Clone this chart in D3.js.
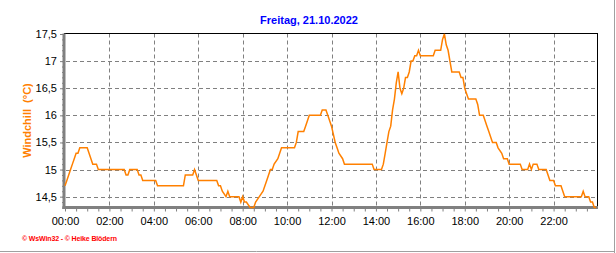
<!DOCTYPE html>
<html>
<head>
<meta charset="utf-8">
<script src="https://cdn.jsdelivr.net/npm/d3@7"></script>
<style>
  body { margin: 0; background: #fff; }
  svg { display: block; font-family: "Liberation Sans", Arial, sans-serif; }
</style>
</head>
<body>
<svg width="616" height="253"></svg>
<script>
let svg = d3.select("svg");
let width = +svg.attr("width");
let height = +svg.attr("height");

// windchill readings (time of change, value in °C)
const times = [
  "00:00", "00:05", "00:10", "00:15", "00:20", "00:25", "00:30", "00:35", "00:40", "01:00",
  "01:05", "01:10", "01:15", "01:25", "01:30", "02:40", "02:45", "02:50", "02:55", "03:15",
  "03:20", "03:25", "03:30", "04:05", "04:10", "05:20", "05:25", "05:45", "05:50", "05:55",
  "06:00", "06:50", "06:55", "07:00", "07:05", "07:15", "07:20", "07:25", "07:50", "07:55",
  "08:00", "08:05", "08:10", "08:20", "08:30", "08:35", "08:45", "08:55", "09:05", "09:10",
  "09:15", "09:20", "09:25", "09:35", "09:40", "09:45", "10:20", "10:25", "10:30", "10:45",
  "10:50", "10:55", "11:00", "11:30", "11:35", "11:45", "11:50", "12:00", "12:10", "12:15",
  "12:20", "12:30", "12:35", "13:50", "13:55", "14:15", "14:20", "14:25", "14:30", "14:35",
  "14:40", "14:45", "14:50", "14:55", "15:00", "15:05", "15:10", "15:15", "15:20", "15:25",
  "15:30", "15:35", "15:40", "15:45", "15:50", "15:55", "16:00", "16:35", "16:40", "16:55",
  "17:00", "17:05", "17:10", "17:15", "17:20", "17:25", "17:45", "17:50", "17:55", "18:00",
  "18:05", "18:10", "18:30", "18:35", "18:40", "18:50", "18:55", "19:00", "19:05", "19:10",
  "19:15", "19:25", "19:30", "19:40", "19:45", "19:55", "20:00", "20:30", "20:35", "20:50",
  "20:55", "21:00", "21:05", "21:15", "21:20", "21:40", "21:45", "21:50", "22:00", "22:05",
  "22:20", "22:25", "22:30", "23:15", "23:20", "23:25", "23:35", "23:40", "23:45", "23:50",
  "23:55"
];
const values = [
  14.7, 14.8, 14.9, 15.0, 15.1, 15.2, 15.3, 15.3, 15.4, 15.4,
  15.3, 15.2, 15.1, 15.1, 15.0, 15.0, 14.9, 14.9, 15.0, 15.0,
  14.9, 14.9, 14.8, 14.8, 14.7, 14.7, 14.9, 14.9, 15.0, 14.9,
  14.8, 14.8, 14.7, 14.7, 14.6, 14.5, 14.6, 14.5, 14.5, 14.4,
  14.5, 14.4, 14.4, 14.3, 14.3, 14.4, 14.5, 14.6, 14.8, 14.9,
  15.0, 15.0, 15.1, 15.2, 15.3, 15.4, 15.4, 15.5, 15.7, 15.7,
  15.8, 15.9, 16.0, 16.0, 16.1, 16.1, 16.0, 15.8, 15.5, 15.4,
  15.3, 15.2, 15.1, 15.1, 15.0, 15.0, 15.1, 15.3, 15.5, 15.7,
  15.8, 16.1, 16.3, 16.6, 16.8, 16.5, 16.4, 16.5, 16.7, 16.7,
  16.8, 17.0, 17.0, 17.1, 17.1, 17.2, 17.1, 17.1, 17.2, 17.2,
  17.4, 17.5, 17.3, 17.2, 17.0, 16.8, 16.8, 16.7, 16.7, 16.5,
  16.4, 16.3, 16.3, 16.2, 16.0, 16.0, 15.9, 15.8, 15.7, 15.6,
  15.5, 15.5, 15.4, 15.3, 15.2, 15.2, 15.1, 15.1, 15.0, 15.0,
  15.1, 15.0, 15.1, 15.1, 15.0, 15.0, 14.9, 14.8, 14.8, 14.7,
  14.7, 14.6, 14.5, 14.5, 14.6, 14.5, 14.5, 14.4, 14.4, 14.3,
  14.3
];

const yTicks = [14.5, 15, 15.5, 16, 16.5, 17, 17.5];
const xTickLabels = ["00:00", "02:00", "04:00", "06:00", "08:00", "10:00",
                     "12:00", "14:00", "16:00", "18:00", "20:00", "22:00"];

const title = "Freitag, 21.10.2022";
const yTitle = "Windchill  (°C)";
const credit = "© WsWin32 - © Heike Blödern";

function toHours(t) {
  let p = t.split(":");
  return +p[0] + +p[1] / 60;
}

let data = times.map((t, i) => ({ h: toHours(t), v: values[i] }));

let x = d3.scaleLinear().domain([0, 24]).range([65, 598]);
let y = d3.scaleLinear().domain([14.3, 17.5]).range([207.5, 34]);

let plotLeft = 64, plotRight = 597.5, plotTop = 33.5, plotBottom = 207.5;

// outer frame (right and bottom)
svg.append("line")
  .attr("x1", 614.5).attr("x2", 614.5).attr("y1", 0).attr("y2", height)
  .style("stroke", "#a0a0a0");
svg.append("line")
  .attr("x1", 0).attr("x2", 615).attr("y1", 251.5).attr("y2", 251.5)
  .style("stroke", "#a0a0a0");

// grid
let gridY = yTicks.filter((d) => d < 17.5);
svg.append("g")
  .selectAll("line")
  .data(gridY)
  .enter()
  .append("line")
  .attr("x1", plotLeft + 2).attr("x2", plotRight)
  .attr("y1", (d) => Math.round(y(d)) + 0.5)
  .attr("y2", (d) => Math.round(y(d)) + 0.5)
  .style("stroke", "#808080")
  .style("stroke-dasharray", "4,3");

let gridX = d3.range(2, 24, 2);
svg.append("g")
  .selectAll("line")
  .data(gridX)
  .enter()
  .append("line")
  .attr("x1", (d) => Math.round(x(d)) + 0.5)
  .attr("x2", (d) => Math.round(x(d)) + 0.5)
  .attr("y1", plotTop)
  .attr("y2", plotBottom)
  .style("stroke", "#808080")
  .style("stroke-dasharray", "4,3");

// border top / right
svg.append("line")
  .attr("x1", plotLeft).attr("x2", plotRight + 0.5)
  .attr("y1", plotTop).attr("y2", plotTop)
  .style("stroke", "#000");
svg.append("line")
  .attr("x1", plotRight).attr("x2", plotRight)
  .attr("y1", plotTop).attr("y2", plotBottom)
  .style("stroke", "#000");

// y axis: minor ticks, then major with labels
let yMinor = d3.range(143, 176).map((d) => d / 10);
svg.append("g")
  .attr("transform", `translate(${plotLeft},0)`)
  .call(d3.axisLeft(y).tickValues(yMinor).tickSize(2).tickSizeOuter(0).tickFormat(""))
  .call((g) => g.select(".domain").remove())
  .call((g) => g.selectAll("line").style("stroke", "#808080"));

svg.append("g")
  .attr("transform", `translate(${plotLeft},0)`)
  .call(d3.axisLeft(y).tickValues(yTicks).tickSize(4).tickSizeOuter(0).tickPadding(3)
    .tickFormat((d) => String(d).replace(".", ",")))
  .call((g) => g.select(".domain").remove())
  .call((g) => g.selectAll("line").style("stroke", "#808080"))
  .call((g) => g.selectAll("text")
    .style("font-size", "11px").style("fill", "#000")
    .style("font-family", '"Liberation Sans", Arial, sans-serif'));

// x axis
let xMinor = d3.range(0, 48).map((d) => d / 2);
svg.append("g")
  .attr("transform", `translate(0,${plotBottom})`)
  .call(d3.axisBottom(x).tickValues(xMinor).tickSize(4).tickSizeOuter(0).tickPadding(6)
    .tickFormat((d) => (d % 2 === 0 ? xTickLabels[d / 2] : "")))
  .call((g) => g.select(".domain").remove())
  .call((g) => g.selectAll("line").style("stroke", "#808080"))
  .call((g) => g.selectAll("text")
    .style("font-size", "11px").style("fill", "#000")
    .style("font-family", '"Liberation Sans", Arial, sans-serif'));

// thick axis lines
svg.append("line")
  .attr("x1", plotLeft).attr("x2", plotLeft)
  .attr("y1", plotTop).attr("y2", plotBottom + 1.5)
  .style("stroke", "#808080").style("stroke-width", 3);
svg.append("line")
  .attr("x1", plotLeft - 1.5).attr("x2", plotRight + 0.5)
  .attr("y1", plotBottom).attr("y2", plotBottom)
  .style("stroke", "#808080").style("stroke-width", 3);

// windchill line
let line = d3.line()
  .x((d) => x(d.h))
  .y((d) => y(d.v));

svg.append("path")
  .datum(data)
  .attr("d", line)
  .style("fill", "none")
  .style("stroke", "#ff8000")
  .style("stroke-width", 1.5);

// texts
svg.append("text")
  .attr("x", 309).attr("y", 23.5)
  .attr("text-anchor", "middle")
  .style("font-size", "11px").style("font-weight", "bold")
  .style("fill", "#0000ff")
  .text(title);

svg.append("text")
  .attr("transform", "translate(31,120.5) rotate(-90)")
  .attr("text-anchor", "middle")
  .style("font-size", "11px").style("font-weight", "bold")
  .style("fill", "#ff8000")
  .style("white-space", "pre")
  .text(yTitle);

svg.append("text")
  .attr("x", 22).attr("y", 241)
  .attr("textLength", 95)
  .style("font-size", "7px").style("font-weight", "bold")
  .style("fill", "#ff0000")
  .text(credit);
</script>
</body>
</html>
